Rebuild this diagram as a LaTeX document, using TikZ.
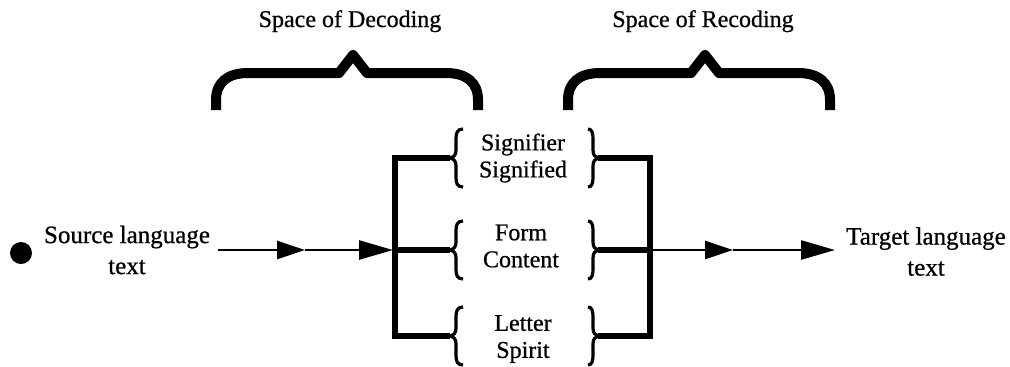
\documentclass[tikz,border=0pt]{standalone}
\usepackage{fontspec}
\setmainfont{Liberation Serif}
\newfontfamily\heavyserif{Liberation Serif}[FakeBold=0.7]
\usetikzlibrary{arrows.meta}
\begin{document}
\begin{tikzpicture}[x=0.5pt,y=-0.5pt,
  lbl/.style={font=\heavyserif\fontsize{12}{13.5}\selectfont, inner sep=0pt, align=center},
  endlbl/.style={font=\heavyserif\fontsize{12.5}{15.5}\selectfont, inner sep=0pt, align=center},
  bigbrace/.style={line width=5pt, line join=round, line cap=butt},
  smallbrace/.style={line width=1.6pt, line join=round},
  frame/.style={line width=2.8pt, line join=miter},
  flow/.style={line width=1.3pt},
  midtip/.style={-{Triangle[length=14pt,width=9pt]}},
  endtip/.style={-{Triangle[length=17pt,width=9.5pt]}},
]
\useasboundingbox (0,0) rectangle (1010,366);

% headings
\node[lbl, anchor=base] (dec) at (350,27) {Space of Decoding};
\node[lbl, anchor=base] (rec) at (703,27) {Space of Recoding};

% big braces
\foreach \s in {0,352}{
  \draw[bigbrace] (216+\s,110) -- (216+\s,100) .. controls (216+\s,82) and (228+\s,73) .. (248+\s,73)
    -- (339+\s,73) -- (353+\s,55) -- (367+\s,73) -- (446+\s,73)
    .. controls (466+\s,73) and (478+\s,82) .. (478+\s,100) -- (478+\s,110);
}

% source / target
\node[circle, fill, inner sep=0pt, minimum size=11pt] (dot) at (21,253) {};
\node[endlbl] (src) at (127,250) {Source language\\text};
\node[endlbl] (tgt) at (926,251.5) {Target language\\text};

% centre labels
\node[lbl] (sig) at (523,158) {Signifier\\Signified};
\node[lbl] (frm) at (521,246) {Form\\Content};
\node[lbl] (let) at (523,339) {Letter\\Spirit};

% small braces
\foreach \cy/\nm in {158/1,250/2,336/3}{
  \draw[smallbrace] (463,\cy-29) .. controls (457,\cy-29) and (456,\cy-25) .. (456,\cy-19)
    -- (456,\cy-8) .. controls (456,\cy-3) and (454,\cy-1) .. (450,\cy)
    .. controls (454,\cy+1) and (456,\cy+3) .. (456,\cy+8) -- (456,\cy+19)
    .. controls (456,\cy+25) and (457,\cy+29) .. (463,\cy+29);
  \coordinate (L\nm) at (450,\cy);
  \draw[smallbrace] (588,\cy-29) .. controls (592,\cy-29) and (593,\cy-25) .. (593,\cy-19)
    -- (593,\cy-8) .. controls (593,\cy-3) and (595,\cy-1) .. (598,\cy)
    .. controls (595,\cy+1) and (593,\cy+3) .. (593,\cy+8) -- (593,\cy+19)
    .. controls (593,\cy+25) and (592,\cy+29) .. (588,\cy+29);
  \coordinate (R\nm) at (598,\cy);
}

% frames
\coordinate (lbt) at (395,158);
\coordinate (lbb) at (395,336);
\coordinate (lbm) at (395,250);
\coordinate (rbt) at (650,158);
\coordinate (rbb) at (650,336);
\coordinate (rbm) at (650,250);
\draw[frame] (L1) -- (lbt) -- (lbb) -- (L3);
\draw[frame] (lbm) -- (L2);
\draw[frame] (R1) -- (rbt) -- (rbb) -- (R3);
\draw[frame] (R2) -- (rbm);

% flow arrows
\coordinate (a0) at (218,250);
\coordinate (m1) at (305,250);
\coordinate (lin) at (393,250);
\coordinate (m2) at (733,250);
\coordinate (a1) at (835,250);
\draw[flow, midtip] (a0) -- (m1);
\draw[flow, endtip] (m1) -- (lin);
\draw[flow, midtip] (rbm) -- (m2);
\draw[flow, endtip] (m2) -- (a1);
\end{tikzpicture}
\end{document}
